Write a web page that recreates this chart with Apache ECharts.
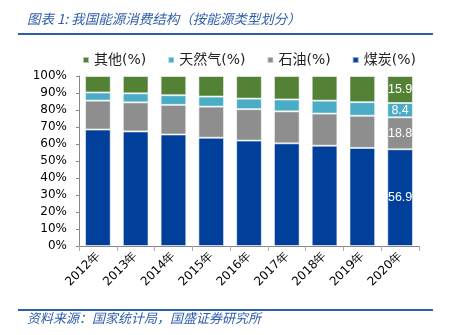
<!DOCTYPE html>
<html><head><meta charset="utf-8">
<script src="https://cdn.jsdelivr.net/npm/echarts@6/dist/echarts.min.js"></script>
<style>html,body{margin:0;padding:0;background:#fff}#c{width:449px;height:335px}</style>
</head><body><div id="c"></div>
<script>
var years = ['2012年','2013年','2014年','2015年','2016年','2017年','2018年','2019年','2020年'];
var coal  = [68.5, 67.4, 65.6, 63.7, 62.0, 60.4, 59.0, 57.7, 56.9];
var oil   = [17.0, 17.1, 17.4, 18.3, 18.5, 18.8, 18.9, 18.9, 18.8];
var gas   = [4.8, 5.3, 5.7, 5.9, 6.2, 7.0, 7.6, 8.0, 8.4];
var other = [9.7, 10.2, 11.3, 12.1, 13.3, 13.8, 14.5, 15.4, 15.9];
var yTicks = [0,10,20,30,40,50,60,70,80,90,100];

var chart = echarts.init(document.getElementById('c'));
function lbl(arr){
  return {
    show: true, color: '#fff', fontSize: 12.5, fontFamily: 'Liberation Sans',
    formatter: function(p){ return p.dataIndex === arr.length - 1 ? p.value.toFixed(1) : ''; }
  };
}
function ser(name, data, color){
  return {
    name: name, type: 'bar', stack: 'a', data: data, barCategoryGap: '32%',
    itemStyle: { color: color, borderColor: 'rgba(255,255,255,0.55)', borderWidth: 1 },
    label: lbl(data)
  };
}
chart.setOption({
  animation: false,
  textStyle: { fontFamily: 'DejaVu Sans' },
  grid: { left: 79, right: 30, top: 76, bottom: 89 },
  legend: {
    data: ['其他(%)','天然气(%)','石油(%)','煤炭(%)'],
    left: 82, top: 53, padding: 0, itemWidth: 6, itemHeight: 6, itemGap: 21, icon: 'rect',
    textStyle: { fontSize: 14, color: '#222', fontFamily: 'DejaVu Sans, "Noto Sans CJK SC"' }
  },
  xAxis: {
    type: 'category', data: years,
    axisLine: { lineStyle: { color: '#888' } },
    axisTick: { show: true, alignWithLabel: false, lineStyle: { color: '#aaa' } },
    axisLabel: { rotate: 45, color: '#000', fontSize: 12, margin: 8, fontFamily: 'DejaVu Sans' }
  },
  yAxis: {
    type: 'value', min: yTicks[0], max: yTicks[yTicks.length-1], interval: 10,
    axisLine: { show: true, lineStyle: { color: '#888' } },
    axisTick: { show: true, length: 3, lineStyle: { color: '#888' } },
    splitLine: { show: false },
    axisLabel: { formatter: '{value}%', color: '#000', fontSize: 12, margin: 12 }
  },
  series: [
    ser('煤炭(%)', coal, '#00409A'),
    ser('石油(%)', oil, '#8E8E8E'),
    ser('天然气(%)', gas, '#4BACC6'),
    ser('其他(%)', other, '#538135')
  ],
  graphic: [
    { type: 'text', left: 27, top: 12, style: { text: '图表 1: 我国能源消费结构（按能源类型划分）', fill: '#2E5DAA', font: 'italic 13.5px "Noto Sans CJK SC"' } },
    { type: 'rect', shape: { x: 18, y: 33, width: 415, height: 2 }, style: { fill: '#2E5DAA' } },
    { type: 'rect', shape: { x: 18, y: 309, width: 415, height: 2 }, style: { fill: '#2E5DAA' } },
    { type: 'text', left: 27, top: 312, style: { text: '资料来源：国家统计局，国盛证券研究所', fill: '#2E5DAA', font: 'italic 13px "Noto Sans CJK SC"' } }
  ]
});
</script></body></html>
